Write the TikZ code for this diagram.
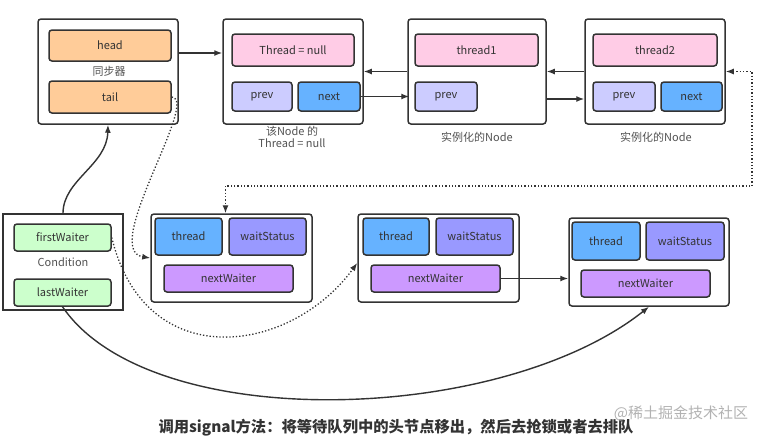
\documentclass[tikz,border=0pt]{standalone}
\usepackage{fontspec}
\setmainfont{Noto Sans CJK SC}
\usetikzlibrary{arrows.meta,calc}
\definecolor{bd}{HTML}{333333}
\definecolor{corange}{HTML}{FFCC99}
\definecolor{cpink}{HTML}{FFCCE6}
\definecolor{cprev}{HTML}{CCCCFF}
\definecolor{cblue}{HTML}{66B2FF}
\definecolor{cws}{HTML}{9999FF}
\definecolor{cnw}{HTML}{CC99FF}
\definecolor{cgreen}{HTML}{CCFFCC}
\tikzset{
  outer/.style={draw=bd,line width=1.5pt,rounded corners=3pt,fill=white,inner sep=0pt},
  field/.style={draw=bd,line width=1.5pt,rounded corners=3pt,inner sep=0pt,text=bd,font=\fontsize{11}{13}\selectfont},
  lbl/.style={text=bd!85,font=\fontsize{11}{13}\selectfont,inner sep=0pt,align=center},
  arr/.style={draw=bd,line width=1.4pt,-{Latex[length=8pt,width=6pt]}},
  dotarr/.style={draw=bd,line width=1.3pt,dotted,-{Latex[length=8pt,width=6pt]}},
}
\begin{document}
\begin{tikzpicture}[x=1pt,y=-1pt]
\useasboundingbox (0,0) rectangle (763,440);
% synchronizer
\node[outer,minimum width=140,minimum height=105] (S) at (108,71.5) {};
\node[field,fill=corange,minimum width=122,minimum height=31] (head) at (110,45.5) {head};
\node[field,fill=corange,minimum width=122,minimum height=32] (tail) at (110,97) {tail};
\node[lbl] (Slbl) at (109,71) {同步器};
% node0
\node[outer,minimum width=140,minimum height=105] (N0) at (293,71.5) {};
\node[field,fill=cpink,minimum width=122,minimum height=32] (t0) at (293,50) {Thread = null};
\node[field,fill=cprev,minimum width=60,minimum height=29] (prev0) at (262,96.5) {prev};
\node[field,fill=cblue,minimum width=62,minimum height=29] (next0) at (329,96.5) {next};
\node[lbl] (N0lbl) at (292,137) {该Node 的\\[-1pt]Thread = null};
% node1
\node[outer,minimum width=138,minimum height=105] (N1) at (477,71.5) {};
\node[field,fill=cpink,minimum width=123,minimum height=32] (t1) at (476.5,50) {thread1};
\node[field,fill=cprev,minimum width=62,minimum height=29] (prev1) at (446,96.5) {prev};
\node[lbl] (N1lbl) at (477,137) {实例化的Node};
% node2
\node[outer,minimum width=140,minimum height=105] (N2) at (655,71.5) {};
\node[field,fill=cpink,minimum width=124,minimum height=32] (t2) at (655,50) {thread2};
\node[field,fill=cprev,minimum width=62,minimum height=29] (prev2) at (624,96.5) {prev};
\node[field,fill=cblue,minimum width=61,minimum height=29] (next2) at (691.5,96.5) {next};
\node[lbl] (N2lbl) at (656,137) {实例化的Node};
% condition
\node[outer,rounded corners=0pt,minimum width=120,minimum height=96] (C) at (63,262) {};
\node[field,fill=cgreen,minimum width=97,minimum height=27] (fw) at (62.5,237.5) {firstWaiter};
\node[field,fill=cgreen,minimum width=97,minimum height=27] (lw) at (62.5,292.5) {lastWaiter};
\node[lbl] (Clbl) at (63,262) {Condition};
% waiter 1
\node[outer,minimum width=161,minimum height=88] (W1) at (231.5,258) {};
\node[field,fill=cblue,minimum width=67,minimum height=37] (th1) at (188.5,236.5) {thread};
\node[field,fill=cws,minimum width=77,minimum height=37] (ws1) at (267.5,236.5) {waitStatus};
\node[field,fill=cnw,minimum width=129,minimum height=27] (nw1) at (228.5,278.5) {nextWaiter};
% waiter 2
\node[outer,minimum width=161,minimum height=88] (W2) at (438.5,258) {};
\node[field,fill=cblue,minimum width=66,minimum height=37] (th2) at (396,236.5) {thread};
\node[field,fill=cws,minimum width=77,minimum height=37] (ws2) at (474.5,236.5) {waitStatus};
\node[field,fill=cnw,minimum width=129,minimum height=27] (nw2) at (435.5,278.5) {nextWaiter};
% waiter 3
\node[outer,minimum width=160,minimum height=88] (W3) at (649,262) {};
\node[field,fill=cblue,minimum width=68,minimum height=38] (th3) at (606,241) {thread};
\node[field,fill=cws,minimum width=78,minimum height=38] (ws3) at (685,241) {waitStatus};
\node[field,fill=cnw,minimum width=129,minimum height=27] (nw3) at (645.5,283.5) {nextWaiter};
% connectors
\draw[arr] (S.east |- 0,53) -- (N0.west |- 0,53);
\draw[arr] (N1.west) -- (N0.east);
\draw[arr] (next0.east) -- ([xshift=2pt]next0.east -| N1.west);
\draw[arr] (N2.west) -- (N1.east);
\draw[arr] (N1.east |- 0,99) -- (N2.west |- 0,99);
\coordinate (c1) at (752,186);
\draw[dotarr,{Latex[length=8pt,width=6pt]}-{Latex[length=8pt,width=6pt]}] (N2.east) -| (c1) -| ([xshift=-6pt]W1.north);
\draw[dotarr] (tail.east) .. controls (200,100) and (100,250) .. (W1.west);
\draw[dotarr] (fw.east) .. controls (145,375) and (290,355) .. ([yshift=-5pt]W2.west);
\draw[arr] (C.north) .. controls (63,180) and (107,165) .. (S.south);
\draw[arr] (lw.south) .. controls (150,435) and (500,425) .. (W3.south);
\draw[arr] (nw2.east) -- (nw2.east -| W3.west);
% captions
\node[font=\fontsize{15.3}{17}\selectfont\bfseries,text=bd,inner sep=0pt] (cap) at (396,428) {调用signal方法：将等待队列中的头节点移出，然后去抢锁或者去排队};
\node[font=\fontsize{15}{17}\selectfont,text=black!30,inner sep=0pt] (wm) at (681,413) {@稀土掘金技术社区};
\end{tikzpicture}
\end{document}
